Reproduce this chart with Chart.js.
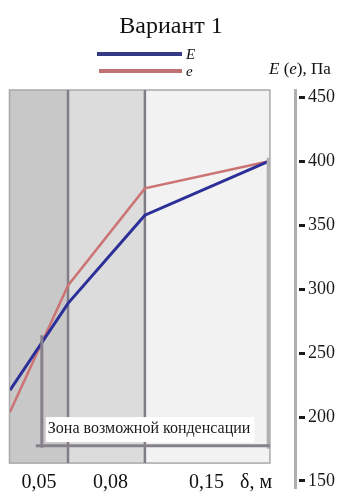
<!DOCTYPE html>
<html>
<head>
<meta charset="utf-8">
<script src="https://cdn.jsdelivr.net/npm/chart.js@4/dist/chart.umd.min.js"></script>
<style>
  html, body { margin: 0; padding: 0; background: #fff; }
  #wrap { width: 342px; height: 492px; }
</style>
</head>
<body>
<div id="wrap"><canvas id="c" width="342" height="492"></canvas></div>
<script>
// Wall section: layer thicknesses and boundary positions along the drawn section
const thicknessLabels = ['0,05', '0,08', '0,15'];
const layerEdges = [0, 0.225, 0.523, 1];          // boundary positions (section width = 1)
const layerColors = ['#c8c8c8', '#dcdcdc', '#f2f2f2'];

// Pressures at the layer boundaries, Pa
const E_values = [221, 289, 358, 400];            // saturated vapour pressure E
const e_values = [204, 303, 379, 400];            // partial vapour pressure e

// Pressure axis
const yTicks = [150, 200, 250, 300, 350, 400, 450];
const yMin = 144.5, yMax = 456;
const frameBottom = 164;                           // lower edge of the section frame, Pa
const zoneLevel = 177.5, zoneTop = 264, zoneBottom = 176;

const SERIF = '"Liberation Serif", "DejaVu Serif", serif';

// x where e first rises above E (start of the condensation zone)
function crossingX() {
  for (let i = 0; i < layerEdges.length - 1; i++) {
    const d0 = e_values[i] - E_values[i], d1 = e_values[i + 1] - E_values[i + 1];
    if (d0 <= 0 && d1 > 0) {
      const t = -d0 / (d1 - d0);
      return layerEdges[i] + t * (layerEdges[i + 1] - layerEdges[i]);
    }
  }
  return layerEdges[0];
}

const sectionPlugin = {
  id: 'section',
  beforeDatasetsDraw(chart) {
    const { ctx, scales: { x, y } } = chart;
    const top = y.getPixelForValue(yMax);
    const bottom = y.getPixelForValue(frameBottom);
    const xs = layerEdges.map(v => x.getPixelForValue(v));
    ctx.save();
    // layer fills
    for (let i = 0; i < layerColors.length; i++) {
      ctx.fillStyle = layerColors[i];
      ctx.fillRect(xs[i], top, xs[i + 1] - xs[i] + (i === layerColors.length - 1 ? 2 : 0), bottom - top);
    }
    // outer frame
    ctx.strokeStyle = '#a9a9a9';
    ctx.lineWidth = 1.5;
    ctx.strokeRect(xs[0] - 0.5, top, xs[xs.length - 1] - xs[0] + 2.5, bottom - top);
    // inner layer boundaries
    ctx.strokeStyle = '#807d87';
    ctx.lineWidth = 2.5;
    for (let i = 1; i < xs.length - 1; i++) {
      ctx.beginPath();
      ctx.moveTo(xs[i], top);
      ctx.lineTo(xs[i], bottom);
      ctx.stroke();
    }
    ctx.restore();
  },
  afterDatasetsDraw(chart) {
    const { ctx, scales: { x, y } } = chart;
    const xs = layerEdges.map(v => x.getPixelForValue(v));
    const xz = x.getPixelForValue(crossingX());
    const yz = y.getPixelForValue(zoneLevel);
    ctx.save();
    // right edge bar down to the zone line
    ctx.strokeStyle = '#b0b0b0';
    ctx.lineWidth = 3.5;
    ctx.beginPath();
    ctx.moveTo(xs[xs.length - 1] + 0.5, y.getPixelForValue(E_values[E_values.length - 1] + 3));
    ctx.lineTo(xs[xs.length - 1] + 0.5, yz + 3);
    ctx.stroke();
    // condensation zone bracket
    ctx.strokeStyle = '#85808a';
    ctx.lineWidth = 3;
    ctx.beginPath();
    ctx.moveTo(xz, y.getPixelForValue(zoneTop));
    ctx.lineTo(xz, y.getPixelForValue(zoneBottom));
    ctx.moveTo(xz - 6, yz);
    ctx.lineTo(xs[xs.length - 1] + 2, yz);
    ctx.stroke();
    // label box
    const label = 'Зона возможной конденсации';
    ctx.font = '16px ' + SERIF;
    const w = ctx.measureText(label).width;
    const bx = xz + 4, by = y.getPixelForValue(200), bh = y.getPixelForValue(180.5) - by;
    ctx.fillStyle = '#ffffff';
    ctx.fillRect(bx, by, w + 6, bh);
    ctx.fillStyle = '#1a1a1a';
    ctx.textBaseline = 'alphabetic';
    ctx.fillText(label, bx + 2, by + bh - 9);
    ctx.restore();
  },
  afterDraw(chart) {
    const { ctx, scales: { x } } = chart;
    ctx.save();
    ctx.fillStyle = '#111';
    ctx.textBaseline = 'alphabetic';
    // title
    ctx.font = '24px ' + SERIF;
    ctx.textAlign = 'center';
    ctx.fillText('Вариант 1', 171, 33);
    // legend
    ctx.textAlign = 'left';
    const rows = [54, 71];
    chart.data.datasets.forEach((ds, i) => {
      ctx.strokeStyle = ds.legendColor || ds.borderColor;
      ctx.lineWidth = 4;
      ctx.beginPath();
      ctx.moveTo(97 + i * 2, rows[i]);
      ctx.lineTo(182, rows[i]);
      ctx.stroke();
      ctx.font = 'italic 15px ' + SERIF;
      ctx.fillText(ds.label, 186, rows[i] + 5);
    });
    // axis name
    let ax = 269;
    const parts = [['E', true], [' (', false], ['e', true], ['), Па', false]];
    parts.forEach(([t, it]) => {
      ctx.font = (it ? 'italic ' : '') + '17px ' + SERIF;
      ctx.fillText(t, ax, 74);
      ax += ctx.measureText(t).width;
    });
    // layer thickness labels
    ctx.font = '20px ' + SERIF;
    ctx.textAlign = 'center';
    thicknessLabels.forEach((t, i) => {
      const cx = x.getPixelForValue((layerEdges[i] + layerEdges[i + 1]) / 2);
      ctx.fillText(t, cx + (i === 1 ? 4 : 0), 488);
    });
    ctx.textAlign = 'left';
    ctx.fillText('δ, м', 240, 488);
    ctx.restore();
  }
};

new Chart(document.getElementById('c'), {
  type: 'line',
  data: {
    datasets: [
      {
        label: 'E',
        data: layerEdges.map((p, i) => ({ x: p, y: E_values[i] })),
        borderColor: '#2c2f98',
        legendColor: '#343a84',
        borderWidth: 3,
        pointRadius: 0,
        tension: 0
      },
      {
        label: 'e',
        data: layerEdges.map((p, i) => ({ x: p, y: e_values[i] })),
        borderColor: '#cc7373',
        legendColor: '#c07272',
        borderWidth: 2.5,
        pointRadius: 0,
        tension: 0
      }
    ]
  },
  options: {
    responsive: false,
    animation: false,
    layout: { padding: { top: 90, bottom: 4, left: 10, right: 0 } },
    plugins: { legend: { display: false }, title: { display: false }, tooltip: { enabled: false } },
    scales: {
      x: { type: 'linear', min: 0, max: 1.105, display: false },
      y: {
        position: 'right',
        min: yMin,
        max: yMax,
        ticks: {
          padding: 3,
          color: '#1a1a1a',
          font: { family: SERIF, size: 18 }
        },
        afterBuildTicks(scale) {
          scale.ticks = yTicks.map(v => ({ value: v }));
        },
        afterFit(scale) {
          scale.width = 47;
          scale.paddingTop = 0;
          scale.paddingBottom = 0;
        },
        grid: {
          drawOnChartArea: false,
          tickLength: 10,
          tickColor: '#1a1a1a',
          tickWidth: 3,
          tickBorderDash: [0, 2, 6, 60]
        },
        border: { color: '#b0b0b0', width: 3 }
      }
    }
  },
  plugins: [sectionPlugin]
});
</script>
</body>
</html>
